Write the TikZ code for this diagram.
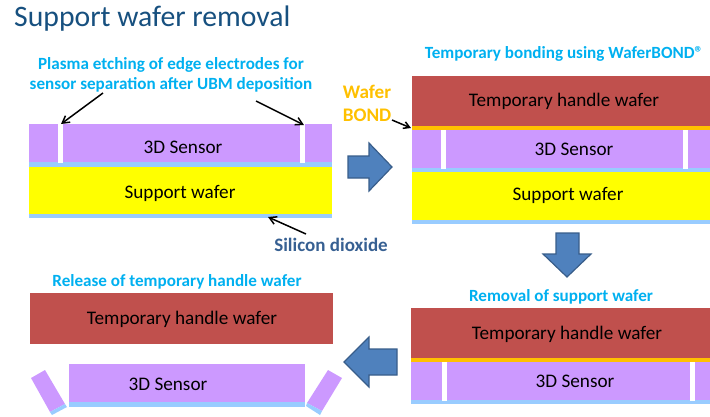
\documentclass[tikz,border=0pt]{standalone}
\usepackage{fontspec}
\setmainfont{Carlito}
\definecolor{sensorc}{HTML}{CC99FF}
\definecolor{oxidec}{HTML}{99CCFF}
\definecolor{supportc}{HTML}{FFFF00}
\definecolor{handlec}{HTML}{C0504D}
\definecolor{bondc}{HTML}{FFC000}
\definecolor{capc}{HTML}{00B0F0}
\definecolor{oxlabc}{HTML}{376092}
\definecolor{titlec}{HTML}{17507F}
\definecolor{blockc}{HTML}{4F81BD}
\definecolor{blockd}{HTML}{385D8A}
\tikzset{
  x=1pt,y=-1pt,
  caplabel/.style={font=\fontsize{17.1}{20}\selectfont\bfseries,text=capc,align=center,inner sep=0pt},
  layerlabel/.style={font=\fontsize{19.2}{20}\selectfont,text=black,inner sep=0pt},
  blockarrow/.style={fill=blockc,draw=blockd,line width=1.2pt,line join=miter},
  pointer/.style={draw=black,line width=1.5pt,-{Straight Barb[length=7pt,width=8pt,line width=1.5pt]}},
}
\usetikzlibrary{arrows.meta}
\begin{document}
\begin{tikzpicture}
\useasboundingbox (0,0) rectangle (710,416);
\node[anchor=west,inner sep=0pt,font=\fontsize{29.7}{34}\selectfont,text=titlec] (title) at (14,18.5) {Support wafer removal};
% panel 1
\fill[sensorc] (29,124) rectangle (332,162);
\fill[oxidec] (29,162) rectangle (332,167);
\fill[supportc] (29,167) rectangle (332,214);
\fill[oxidec] (29,214) rectangle (332,218);
\fill[white] (58,124) rectangle (63,163);
\fill[white] (300,124) rectangle (305,163);
\node[layerlabel] (s1) at (183,147.5) {3D Sensor};
\node[layerlabel] (w1) at (180,193.5) {Support wafer};
\node[caplabel] (cap1) at (171,74.5) {Plasma etching of edge electrodes for\\sensor separation after UBM deposition};
\node[inner sep=0pt,font=\fontsize{19}{20}\selectfont\bfseries,text=oxlabc] (ox) at (331,244.5) {Silicon dioxide};
\coordinate (p1a) at (103,93);
\coordinate (p1b) at (61,124);
\coordinate (p2a) at (256,101);
\coordinate (p2b) at (304,125);
\coordinate (p3a) at (306,234);
\coordinate (p3b) at (268,217);
\draw[pointer] (p1a) -- (p1b);
\draw[pointer] (p2a) -- (p2b);
\draw[pointer] (p3a) -- (p3b);
% panel 2
\fill[handlec] (412,76) rectangle (710,126);
\fill[bondc] (412,126) rectangle (710,130);
\fill[sensorc] (412,130) rectangle (710,168);
\fill[oxidec] (412,168) rectangle (710,172);
\fill[supportc] (412,172) rectangle (710,220);
\fill[oxidec] (412,220) rectangle (710,224);
\fill[white] (441,130) rectangle (446,169);
\fill[white] (683,130) rectangle (688,169);
\node[layerlabel] (h2) at (564,101.5) {Temporary handle wafer};
\node[layerlabel] (s2) at (574,149.5) {3D Sensor};
\node[layerlabel] (w2) at (568,195.5) {Support wafer};
\node[caplabel] (cap2) at (564,53.5) {Temporary bonding using WaferBOND®};
\node[inner sep=0pt,align=center,font=\fontsize{19.2}{23}\selectfont\bfseries,text=bondc] (bond) at (367,103) {Wafer\\BOND};
\coordinate (p4a) at (392,120);
\coordinate (p4b) at (411,128);
\draw[draw=black,line width=1.5pt,-{Straight Barb[length=6pt,width=7pt,line width=1.5pt]}] (p4a) -- (p4b);
% panel 3
\fill[handlec] (411,308) rectangle (710,358);
\fill[bondc] (411,358) rectangle (710,362);
\fill[sensorc] (411,362) rectangle (710,400);
\fill[oxidec] (411,400) rectangle (710,404);
\fill[white] (442,362) rectangle (447,401);
\fill[white] (690,362) rectangle (695,401);
\node[layerlabel] (h3) at (567,334.5) {Temporary handle wafer};
\node[layerlabel] (s3) at (575,381.5) {3D Sensor};
\node[caplabel] (cap3) at (561,296.5) {Removal of support wafer};
% panel 4
\fill[handlec] (30,293) rectangle (333,344);
\fill[sensorc] (69,364) rectangle (305,402);
\fill[oxidec] (69,402) rectangle (305,407);
\fill[sensorc] (31,378) -- (45,370) -- (65,404) -- (50,412) -- cycle;
\fill[oxidec] (50,412) -- (65,404) -- (67,407) -- (52,415) -- cycle;
\fill[sensorc] (328,370) -- (342,378) -- (322,411) -- (307,403) -- cycle;
\fill[oxidec] (307,403) -- (322,411) -- (320,415) -- (306,406) -- cycle;
\node[layerlabel] (h4) at (182,319.5) {Temporary handle wafer};
\node[layerlabel] (s4) at (168,384.5) {3D Sensor};
\node[caplabel] (cap4) at (177,281.5) {Release of temporary handle wafer};
% block arrows
\draw[blockarrow] (348,156) -- (369,156) -- (369,143) -- (392,167) -- (369,191) -- (369,178) -- (348,178) -- cycle;
\draw[blockarrow] (556,233) -- (579,233) -- (579,254) -- (591,254) -- (567,277) -- (543,254) -- (556,254) -- cycle;
\draw[blockarrow] (397,349) -- (369,349) -- (369,337) -- (344,362) -- (369,387) -- (369,375) -- (397,375) -- cycle;
\end{tikzpicture}
\end{document}
